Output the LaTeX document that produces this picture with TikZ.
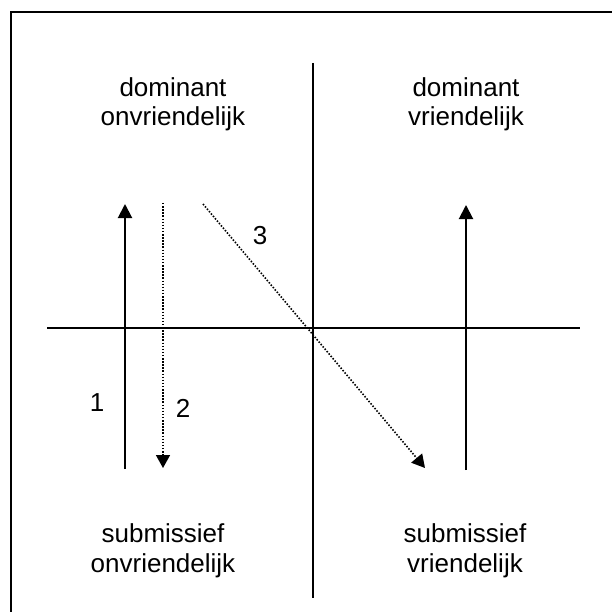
\documentclass[tikz,border=0pt]{standalone}
\usepackage{fontspec}
\setmainfont{Liberation Sans}
\usetikzlibrary{arrows.meta}
\begin{document}
\begin{tikzpicture}[x=1pt,y=-1pt,
  lbl/.style={anchor=base, inner sep=0pt, font=\fontsize{26}{30}\selectfont},
  axisline/.style={line width=2pt},
  frameline/.style={line width=2pt},
  solidarrow/.style={line width=2pt, -{Triangle[width=14pt,length=14pt]}},
  dotarrow/.style={line width=1.6pt, dash pattern=on 1.5pt off 1.6pt, -{Triangle[width=14pt,length=13pt]}}]
\useasboundingbox (0,0) rectangle (611,612);
% frame (right and bottom edges fall outside the picture)
\coordinate (fb) at (10.5,613);
\coordinate (fc) at (10.5,12.5);
\coordinate (fr) at (612,12.5);
\draw[frameline] (fb) -- (fc) -- (fr);
% axes
\coordinate (vt) at (313,63);
\coordinate (vb) at (313,598);
\coordinate (hl) at (47,328);
\coordinate (hr) at (580,328);
\draw[axisline] (vt) -- (vb);
\draw[axisline] (hl) -- (hr);
% arrows
\coordinate (a1s) at (125,469);
\coordinate (a1e) at (125,204);
\coordinate (a2s) at (163,203);
\coordinate (a2e) at (163,468);
\coordinate (a3s) at (203,204);
\coordinate (a3e) at (425,468);
\coordinate (a4s) at (466,470);
\coordinate (a4e) at (466,205);
\draw[solidarrow] (a1s) -- (a1e);
\draw[dotarrow] (a2s) -- (a2e);
\draw[dotarrow] (a3s) -- (a3e);
\draw[solidarrow] (a4s) -- (a4e);
% quadrant labels
\node[lbl] (tl1) at (173,97) {dominant};
\node[lbl] (tl2) at (173,126) {onvriendelijk};
\node[lbl] (tr1) at (466,97) {dominant};
\node[lbl] (tr2) at (466,126) {vriendelijk};
\node[lbl] (bl1) at (163,542) {submissief};
\node[lbl] (bl2) at (163,572) {onvriendelijk};
\node[lbl] (br1) at (465,542) {submissief};
\node[lbl] (br2) at (465,572) {vriendelijk};
% numbers
\node[lbl] (n1) at (97,411) {1};
\node[lbl] (n2) at (183,417) {2};
\node[lbl] (n3) at (260,244) {3};
\end{tikzpicture}
\end{document}
